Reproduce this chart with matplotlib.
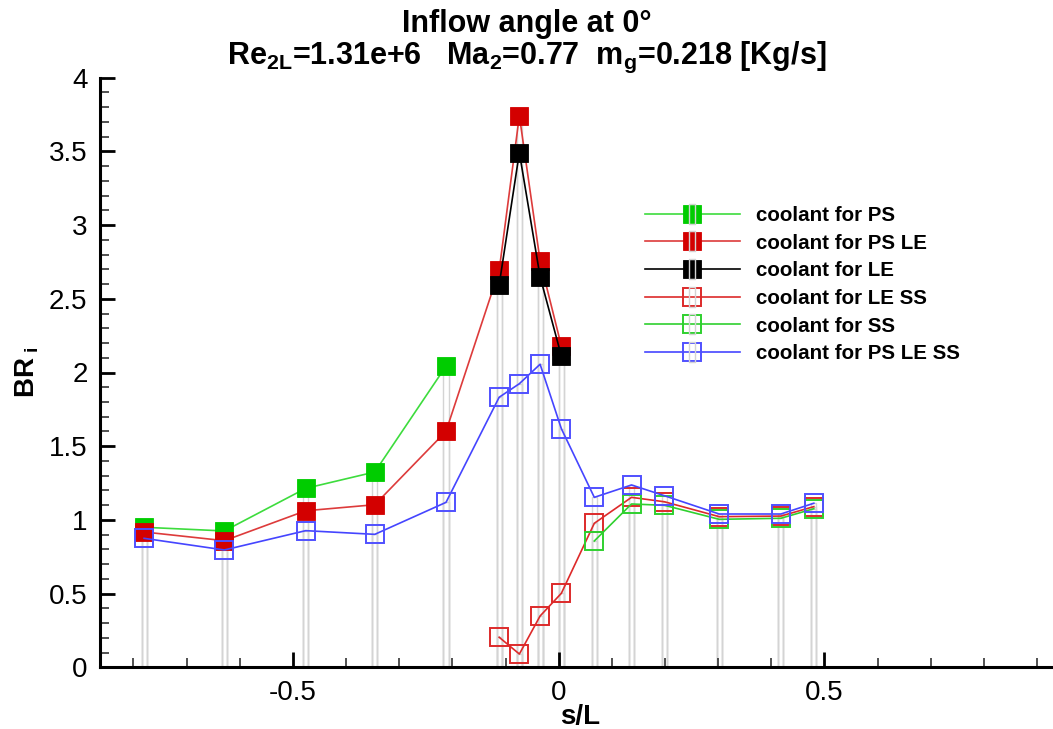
import numpy as np
import matplotlib
matplotlib.use("Agg")
import matplotlib.pyplot as plt
from matplotlib.lines import Line2D
from matplotlib.path import Path
from matplotlib.legend_handler import HandlerTuple

plt.rcParams['font.family'] = ['Liberation Sans', 'DejaVu Sans']
plt.rcParams['mathtext.fontset'] = 'custom'
plt.rcParams['mathtext.rm'] = 'Liberation Sans'
plt.rcParams['mathtext.bf'] = 'Liberation Sans:bold'
plt.rcParams['mathtext.it'] = 'Liberation Sans:italic'

# hole positions along the surface (s/L)
s_L = [-0.780, -0.629, -0.476, -0.346, -0.212, -0.112, -0.074, -0.035,
       0.005, 0.067, 0.137, 0.199, 0.302, 0.418, 0.480]

# blowing ratio per coolant supply configuration
br_ps = [0.950, 0.925, 1.214, 1.325, 2.043]
br_ps_le = [0.918, 0.859, 1.062, 1.103, 1.601, 2.692, 3.742, 2.758, 2.180]
br_le = [2.594, 3.492, 2.650, 2.112]
br_le_ss = [0.204, 0.090, 0.348, 0.502, 0.977, 1.153, 1.123, 1.022, 1.026, 1.090]
br_ss = [0.857, 1.108, 1.099, 1.004, 1.011, 1.076]
br_ps_le_ss = [0.875, 0.796, 0.927, 0.902, 1.119, 1.832, 1.924, 2.056, 1.619,
               1.153, 1.237, 1.164, 1.040, 1.040, 1.113]

labels = ["coolant for PS", "coolant for PS LE", "coolant for LE",
          "coolant for LE SS", "coolant for SS", "coolant for PS LE SS"]

series = [
    (s_L[0:5], br_ps, '#3ddc3d', '#00cc00', True),
    (s_L[0:9], br_ps_le, '#dd3b3b', '#d30000', True),
    (s_L[5:9], br_le, '#000000', '#000000', True),
    (s_L[5:15], br_le_ss, '#dd2a2a', '#dd2a2a', False),
    (s_L[9:15], br_ss, '#2fd02f', '#2fd02f', False),
    (s_L[0:15], br_ps_le_ss, '#4545ff', '#5050ff', False),
]

fig = plt.figure(figsize=(10.53, 7.29), dpi=100)
ax = fig.add_axes([100 / 1053, 1 - 667.3 / 729, 1 - 100 / 1053, (667.3 - 77.7) / 729])

bar_gray = '#d4d4d4'
for x, y, lc, mc, filled in series:
    ax.bar(x, y, width=0.0095, bottom=0, facecolor='none', edgecolor=bar_gray,
           linewidth=1.0, zorder=1)

handles = []
tall_rect = Path([(-0.32, -1), (0.32, -1), (0.32, 1), (-0.32, 1), (-0.32, -1)],
                 [Path.MOVETO, Path.LINETO, Path.LINETO, Path.LINETO, Path.CLOSEPOLY])
for i, (x, y, lc, mc, filled) in enumerate(series):
    ax.plot(x, y, color=lc, linewidth=1.2, zorder=2 + i)
    if filled:
        ax.plot(x, y, linestyle='none', marker='s', markersize=12.5,
                markerfacecolor=mc, markeredgecolor=mc, markeredgewidth=0.6,
                zorder=2.5 + i)
        h = Line2D([], [], color=lc, linewidth=1.2, marker='s', markersize=12.5,
                   markerfacecolor=mc, markeredgecolor=mc, markeredgewidth=0.6)
    else:
        ax.plot(x, y, linestyle='none', marker='s', markersize=12.5,
                markerfacecolor='none', markeredgecolor=mc, markeredgewidth=1.4,
                zorder=2.5 + i)
        h = Line2D([], [], color=lc, linewidth=1.2, marker='s', markersize=12.5,
                   markerfacecolor='none', markeredgecolor=mc, markeredgewidth=1.4)
    g = Line2D([], [], linestyle='none', marker=tall_rect, markersize=15,
               markerfacecolor='none', markeredgecolor=bar_gray, markeredgewidth=1.0)
    handles.append((h, g))

ax.set_xlim(-0.863, 0.930)
ax.set_ylim(0, 4)
for side in ('top', 'right'):
    ax.spines[side].set_visible(False)
for side in ('left', 'bottom'):
    ax.spines[side].set_linewidth(2.2)
ax.set_xticks([-0.5, 0, 0.5])
ax.set_xticklabels(['-0.5', '0', '0.5'])
ax.set_xticks(np.arange(-0.8, 0.95, 0.1), minor=True)
ax.set_yticks(np.arange(0, 4.01, 0.5))
ax.set_yticklabels(['0', '0.5', '1', '1.5', '2', '2.5', '3', '3.5', '4'])
ax.set_yticks(np.arange(0, 4.01, 0.1), minor=True)
ax.tick_params(which='major', direction='in', length=11, width=2, labelsize=20, pad=9)
ax.tick_params(which='minor', direction='in', length=6.5, width=1.2, color='#333333')

ax.set_xlabel('s/L', fontsize=20, fontweight='bold')
ax.xaxis.set_label_coords((580 - 100) / 953, -(724 - 667.3) / 589.6)
ax.xaxis.label.set_va('baseline')
ax.set_ylabel(r'$\mathbf{BR}_{\ \mathbf{i}}$', fontsize=20, labelpad=6)

fig.text(0.5, 1 - 32 / 729, 'Inflow angle at 0°', ha='center', va='baseline',
         fontsize=22, fontweight='bold')
fig.text(0.5, 1 - 64 / 729,
         r'Re$_{\mathbf{2L}}$=1.31e+6   Ma$_{\mathbf{2}}$=0.77  m$_{\mathbf{g}}$=0.218 [Kg/s]',
         ha='center', va='baseline', fontsize=22, fontweight='bold')

leg = ax.legend(handles, labels, handler_map={tuple: HandlerTuple(ndivide=1, pad=0)},
                loc='upper left', bbox_to_anchor=(645 / 1053, 1 - 206 / 729),
                bbox_transform=fig.transFigure, frameon=False,
                prop={'size': 14.8, 'weight': 'bold'}, handlelength=4.6,
                handletextpad=0.8, labelspacing=0.42, borderaxespad=0, borderpad=0)

fig.savefig('out.png', dpi=100)
